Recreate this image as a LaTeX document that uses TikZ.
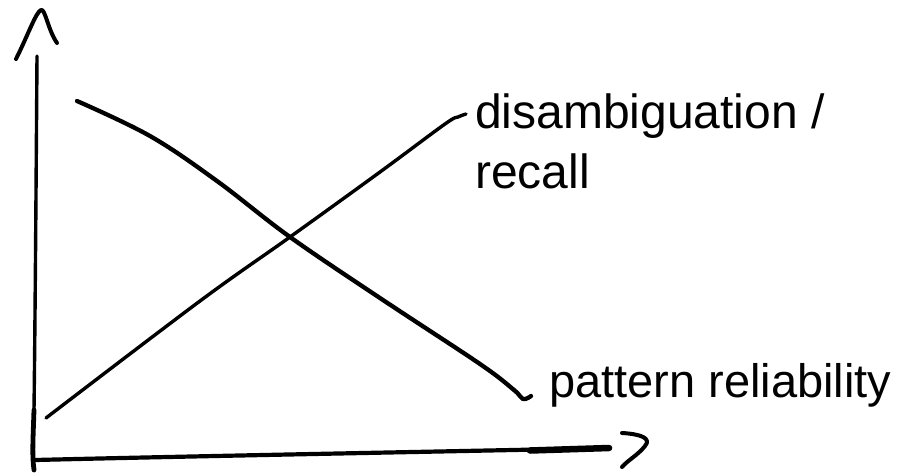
\documentclass[tikz,border=0pt]{standalone}
\usepackage{fontspec}
\setmainfont{Liberation Sans}
\begin{document}
\begin{tikzpicture}[x=1pt,y=-1pt,
  stroke/.style={line cap=round,line join=round,black},
  lbl/.style={inner sep=0pt,anchor=base west,font=\fontsize{48}{58}\selectfont}]
\useasboundingbox (0,0) rectangle (907,475);
% y axis
\draw[stroke,line width=3.4] (37,56) .. controls (36,200) and (35,330) .. (34,410);
\draw[stroke,line width=4.8] (34,410) .. controls (33,440) and (32,455) .. (34,470);
% y arrowhead
\draw[stroke,line width=4] (16,59) .. controls (28,35) and (36,12) .. (41,10) .. controls (45,8) and (48,30) .. (57,43);
% x axis
\draw[stroke,line width=4.2] (35,460) .. controls (200,456) and (420,452) .. (610,448);
\draw[stroke,line width=6.5] (530,450.5) -- (609,448);
% x arrowhead
\draw[stroke,line width=4] (622,433) .. controls (640,434) and (652,438) .. (645,446) .. controls (638,455) and (628,460) .. (622,467);
% text
\node[lbl] (dis) at (475,128) {disambiguation /};
\node[lbl] (rec) at (475,188) {recall};
\node[lbl,font=\fontsize{47}{56}\selectfont] (pat) at (549,397) {pattern reliability};
% rising line
\coordinate (r0) at (46,418);
\coordinate (r1) at (466,114);
\draw[stroke,line width=3.4] plot[smooth,tension=0.6] coordinates {(r0) (200,301) (290,237) (380,172) (445,124) (458,117) (r1)};
% falling line
\coordinate (f0) at (77,101);
\coordinate (f1) at (531,396);
\draw[stroke,line width=4.3] plot[smooth,tension=0.6] coordinates {(f0) (150,136) (217,181) (290,237) (383,300) (480,364) (514,390) (523,399) (f1)};
\end{tikzpicture}
\end{document}
